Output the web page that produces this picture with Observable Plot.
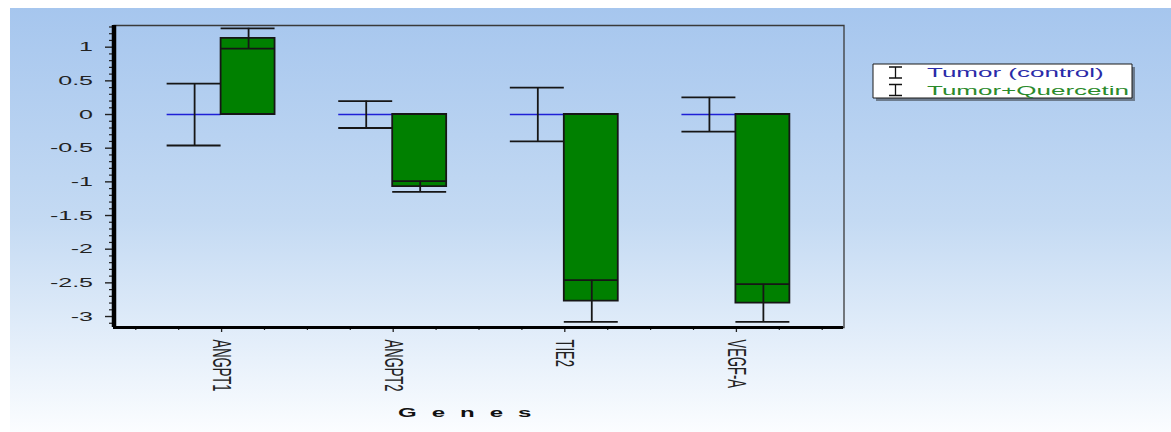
<!DOCTYPE html>
<html>
<head>
<meta charset="utf-8">
<script src="https://cdn.jsdelivr.net/npm/d3@7"></script>
<script src="https://cdn.jsdelivr.net/npm/@observablehq/plot@0.6"></script>
<style>
  html, body { margin: 0; padding: 0; background: #ffffff; }
  #wrap { position: relative; width: 1171px; height: 432px; overflow: hidden; }
  #bg { position: absolute; left: 10px; top: 8px; right: 0; bottom: 0;
        background: linear-gradient(to bottom, #a6c6ee 0%, #c4daf3 50%, #fbfdff 100%); }
  #chart { position: absolute; left: 0; top: 0; }
</style>
</head>
<body>
<div id="wrap"><div id="bg"></div><div id="chart"></div></div>
<script>
// ---- data ----
const genes = ["ANGPT1", "ANGPT2", "TIE2", "VEGF-A"];
const control = [0, 0, 0, 0];
const controlErr = [0.46, 0.20, 0.40, 0.255];
const quercetin = [1.13, -1.07, -2.77, -2.80];
const quercetinErr = [0.15, 0.08, 0.31, 0.28];
const seriesNames = ["Tumor (control)", "Tumor+Quercetin"];
const yMajorTicks = [1, 0.5, 0, -0.5, -1, -1.5, -2, -2.5, -3];
const xTitle = "Genes";

// ---- layout ----
const K = 2;                 // horizontal stretch of the whole picture
const W = 1171 / K, H = 432;
const barW = 0.3145;
const xDomain = [-0.627, 3.627];
const yDomain = [-3.163, 1.322];
const yMinorTicks = d3.range(-31, 14).map(k => k / 10).filter(v => Math.abs(v * 2 - Math.round(v * 2)) > 1e-6);
const xMinorTicks = d3.range(-2, 15).map(k => k / 4).filter(v => v !== Math.round(v));

const rows = genes.map((g, i) => ({
  i, gene: g, c: control[i], ce: controlErr[i], q: quercetin[i], qe: quercetinErr[i]
}));

const ink = "#161616";
const svg = Plot.plot({
  width: W,
  height: H,
  marginLeft: 113 / K,
  marginRight: (1171 - 843) / K,
  marginTop: 25,
  marginBottom: 105,
  style: "background: transparent; width: 1171px; height: 432px; max-width: none; overflow: visible; font-family: 'Liberation Sans', Arial, sans-serif;",
  x: {domain: xDomain, label: null},
  y: {domain: yDomain, label: null},
  marks: [
    Plot.frame({stroke: "#3a3a3a", strokeWidth: 1.3}),
    // control bars (zero height -> blue line)
    Plot.ruleY(rows, {x1: d => d.i - barW, x2: d => d.i, y: "c", stroke: "#1f1fd6", strokeWidth: 1.3}),
    // quercetin bars
    Plot.rect(rows, {x1: d => d.i, x2: d => d.i + barW, y1: 0, y2: "q", fill: "#008000", stroke: ink, strokeWidth: 1.8}),
    // control error bars
    Plot.ruleX(rows, {x: d => d.i - barW / 2, y1: d => d.c - d.ce, y2: d => d.c + d.ce, stroke: ink, strokeWidth: 1.8}),
    Plot.ruleY(rows, {x1: d => d.i - barW, x2: d => d.i, y: d => d.c + d.ce, stroke: ink, strokeWidth: 1.8}),
    Plot.ruleY(rows, {x1: d => d.i - barW, x2: d => d.i, y: d => d.c - d.ce, stroke: ink, strokeWidth: 1.8}),
    // quercetin error bars
    Plot.ruleX(rows, {x: d => d.i + barW / 2, y1: d => d.q - d.qe, y2: d => d.q + d.qe, stroke: ink, strokeWidth: 1.8}),
    Plot.ruleY(rows, {x1: d => d.i, x2: d => d.i + barW, y: d => d.q + d.qe, stroke: ink, strokeWidth: 1.8}),
    Plot.ruleY(rows, {x1: d => d.i, x2: d => d.i + barW, y: d => d.q - d.qe, stroke: ink, strokeWidth: 1.8}),
    // axes
    Plot.axisY({ticks: yMajorTicks, tickSize: 4, tickPadding: 6.5, tickFormat: d => String(d), fontSize: 12.5, stroke: "#222", fill: "#222", strokeWidth: 1.4}),
    Plot.axisY({ticks: yMinorTicks, tickSize: 2, tickFormat: () => "", stroke: "#222", strokeWidth: 1.2}),
    Plot.axisX({ticks: genes.map((_, i) => i), tickFormat: i => genes[i], tickSize: 5, tickPadding: 7, tickRotate: 90, fontSize: 13, stroke: "#222", fill: "#222", strokeWidth: 1.3}),
    Plot.axisX({ticks: xMinorTicks, tickSize: 3, tickFormat: () => "", stroke: "#222", strokeWidth: 1.2}),
    Plot.ruleX([xDomain[0]], {stroke: "#000", strokeWidth: 4.5}),
    Plot.ruleY([yDomain[0]], {stroke: "#000", strokeWidth: 3})
  ]
});

svg.setAttribute("width", 1171);
svg.setAttribute("height", 432);
svg.setAttribute("preserveAspectRatio", "none");

const s = d3.select(svg);

// x title
s.append("text")
  .attr("x", 199).attr("y", 417)
  .attr("text-anchor", "start")
  .attr("font-size", 12).attr("font-weight", "bold")
  .attr("letter-spacing", 7.5)
  .attr("fill", "#111")
  .text(xTitle);

// legend
const lg = s.append("g").attr("text-anchor", "start");
lg.append("rect").attr("x", 436.5 + 1.5).attr("y", 64 + 3).attr("width", 129.5).attr("height", 34)
  .attr("fill", "#55606e").attr("opacity", 0.75);
lg.append("rect").attr("x", 436.5).attr("y", 64).attr("width", 129.5).attr("height", 34)
  .attr("fill", "#ffffff").attr("stroke", "#1a1a1a").attr("stroke-width", 1);
const legendColors = ["#2a2aa8", "#2b8a2b"];
seriesNames.forEach((name, k) => {
  const cy = 72.5 + k * 17.5;
  const x0 = 444.5, x1 = 451;
  lg.append("path")
    .attr("d", `M${x0},${cy - 5.5}H${x1}M${(x0 + x1) / 2},${cy - 5.5}V${cy + 5.5}M${x0},${cy + 5.5}H${x1}`)
    .attr("stroke", "#111").attr("stroke-width", 1.3).attr("fill", "none");
  lg.append("text").attr("x", 463.5).attr("y", cy + 4.6)
    .attr("text-anchor", "start")
    .attr("font-size", 13).attr("fill", legendColors[k]).text(name);
});

s.selectAll("line, path, rect").attr("vector-effect", "non-scaling-stroke");

document.getElementById("chart").appendChild(svg);
</script>
</body>
</html>
